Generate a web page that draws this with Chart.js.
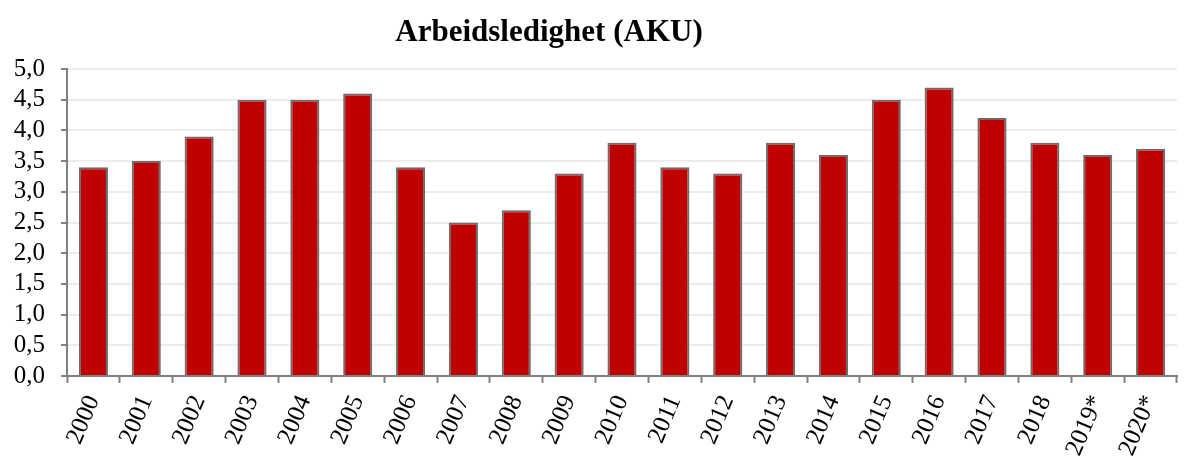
<!DOCTYPE html>
<html>
<head>
<meta charset="utf-8">
<script src="https://cdn.jsdelivr.net/npm/chart.js@4"></script>
<style>
  html, body { margin: 0; padding: 0; background: #fff; }
  #wrap { width: 1192px; height: 459px; }
</style>
</head>
<body>
<div id="wrap"><canvas id="ledighetChart"></canvas></div>
<script>
// data
const years = ['2000', '2001', '2002', '2003', '2004', '2005', '2006', '2007', '2008', '2009', '2010',
               '2011', '2012', '2013', '2014', '2015', '2016', '2017', '2018', '2019*', '2020*'];
const ledighet = [3.4, 3.5, 3.9, 4.5, 4.5, 4.6, 3.4, 2.5, 2.7, 3.3, 3.8,
                  3.4, 3.3, 3.8, 3.6, 4.5, 4.7, 4.2, 3.8, 3.6, 3.7];
const chartTitle = 'Arbeidsledighet (AKU)';

const serif = '"Liberation Serif", "Times New Roman", serif';

// title is not centred on the canvas in the original, so draw it ourselves
const titlePlugin = {
    id: 'offsetTitle',
    afterDraw(chart) {
        const ctx = chart.ctx;
        ctx.save();
        ctx.font = 'bold 31px ' + serif;
        ctx.fillStyle = '#000';
        ctx.textAlign = 'center';
        ctx.textBaseline = 'middle';
        ctx.fillText(chartTitle, 549, 33);
        ctx.restore();
    }
};

const ctx = document.getElementById('ledighetChart').getContext('2d');
new Chart(ctx, {
    type: 'bar',
    data: {
        labels: years,
        datasets: [{
            label: chartTitle,
            data: ledighet,
            backgroundColor: '#C00000',
            borderColor: '#6b6b6b',
            borderWidth: 2,
            categoryPercentage: 1,
            barPercentage: 0.55
        }]
    },
    options: {
        responsive: true,
        maintainAspectRatio: false,
        animation: false,
        layout: { padding: { top: 69, right: 15, left: 0, bottom: 0 } },
        plugins: {
            legend: { display: false },
            tooltip: { enabled: false }
        },
        scales: {
            x: {
                offset: true,
                grid: {
                    offset: true,
                    drawOnChartArea: false,
                    tickLength: 7,
                    tickColor: '#808080',
                    tickWidth: 2
                },
                border: { color: '#808080', width: 2 },
                ticks: {
                    color: '#000',
                    font: { family: serif, size: 25 },
                    minRotation: 67,
                    maxRotation: 67,
                    padding: 8,
                    autoSkip: false
                },
                afterFit: s => { s.height = 83; }
            },
            y: {
                min: 0,
                max: 5,
                ticks: {
                    stepSize: 0.5,
                    autoSkip: false,
                    color: '#000',
                    font: { family: serif, size: 25 },
                    padding: 16,
                    callback: v => v.toFixed(1).replace('.', ',')
                },
                grid: {
                    color: '#ececec',
                    lineWidth: 2,
                    tickLength: 6,
                    tickColor: '#808080',
                    tickWidth: 2
                },
                border: { color: '#808080', width: 2 },
                afterFit: s => { s.width = 67; }
            }
        }
    },
    plugins: [titlePlugin]
});
</script>
</body>
</html>
